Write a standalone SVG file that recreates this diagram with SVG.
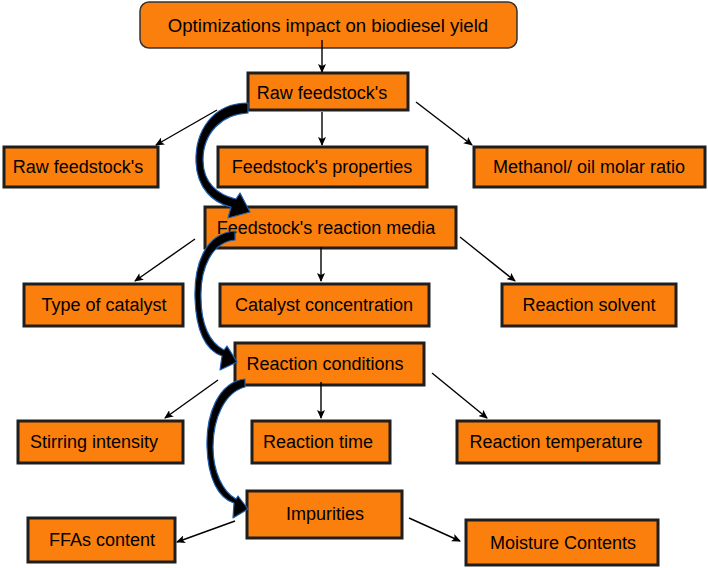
<svg xmlns="http://www.w3.org/2000/svg" width="708" height="568" viewBox="0 0 708 568">
<defs>
<marker id="ah" markerUnits="userSpaceOnUse" markerWidth="9" markerHeight="8" refX="8" refY="4" orient="auto">
<path d="M0,0 L9,4 L0,8 L2,4 Z" fill="#000"/>
</marker>
<style>
.box{fill:#fb7f0c;stroke:#1e1e1e;stroke-width:3}
.top{fill:#fb7f0c;stroke:#333;stroke-width:1.5}
.lbl{font-family:"Liberation Sans",Arial,sans-serif;font-size:18px;fill:#000;text-anchor:middle}
.ln{stroke:#000;stroke-width:1.4;fill:none;marker-end:url(#ah)}
.cv{fill:#000;stroke:#1f5fb0;stroke-width:1.2;stroke-linejoin:round}
</style>
</defs>
<rect width="708" height="568" fill="#fff"/>
<g id="nodes">
<g id="n-top"><rect class="top" x="140" y="2" width="377" height="46" rx="9"/><text class="lbl" x="328" y="32" style="font-size:18.6px">Optimizations impact on biodiesel yield</text></g>
<g id="n-raw"><rect class="box" x="248" y="73" width="160" height="37"/><text class="lbl" x="322" y="99">Raw feedstock's</text></g>
<g id="n-raw2"><rect class="box" x="4" y="147" width="154" height="40"/><text class="lbl" x="78" y="173">Raw feedstock's</text></g>
<g id="n-props"><rect class="box" x="218" y="147" width="209" height="40"/><text class="lbl" x="322" y="173">Feedstock's properties</text></g>
<g id="n-methanol"><rect class="box" x="474" y="147" width="231" height="40"/><text class="lbl" x="589" y="173">Methanol/ oil molar ratio</text></g>
<g id="n-media"><rect class="box" x="205" y="207" width="251" height="41"/><text class="lbl" x="326" y="234">Feedstock's reaction media</text></g>
<g id="n-type"><rect class="box" x="24" y="284" width="159" height="42"/><text class="lbl" x="104" y="311">Type of catalyst</text></g>
<g id="n-conc"><rect class="box" x="220" y="284" width="209" height="42"/><text class="lbl" x="324" y="311">Catalyst concentration</text></g>
<g id="n-solvent"><rect class="box" x="502" y="284" width="174" height="42"/><text class="lbl" x="589" y="311">Reaction solvent</text></g>
<g id="n-cond"><rect class="box" x="235" y="343" width="189" height="42"/><text class="lbl" x="325" y="370">Reaction conditions</text></g>
<g id="n-stir"><rect class="box" x="18" y="421" width="165" height="42"/><text class="lbl" x="94" y="448">Stirring intensity</text></g>
<g id="n-time"><rect class="box" x="252" y="421" width="138" height="42"/><text class="lbl" x="318" y="448">Reaction time</text></g>
<g id="n-temp"><rect class="box" x="457" y="421" width="202" height="42"/><text class="lbl" x="556" y="448">Reaction temperature</text></g>
<g id="n-imp"><rect class="box" x="247" y="491" width="155" height="47"/><text class="lbl" x="325" y="520">Impurities</text></g>
<g id="n-ffa"><rect class="box" x="28" y="518" width="147" height="44"/><text class="lbl" x="102" y="546">FFAs content</text></g>
<g id="n-moist"><rect class="box" x="466" y="520" width="192" height="45"/><text class="lbl" x="563" y="549">Moisture Contents</text></g>
</g>
<g id="connectors">
<line class="ln" x1="322" y1="40" x2="322" y2="72"/>
<line class="ln" x1="217" y1="110" x2="156" y2="145"/>
<line class="ln" x1="322" y1="112" x2="322" y2="145"/>
<line class="ln" x1="416" y1="102" x2="472" y2="145"/>
<line class="ln" x1="195" y1="239" x2="135" y2="281"/>
<line class="ln" x1="321" y1="247" x2="321" y2="281"/>
<line class="ln" x1="460" y1="237" x2="515" y2="281"/>
<line class="ln" x1="218" y1="380" x2="165" y2="418"/>
<line class="ln" x1="321" y1="382" x2="321" y2="418"/>
<line class="ln" x1="432" y1="373" x2="487" y2="418"/>
<line class="ln" x1="235" y1="521" x2="177" y2="542"/>
<line class="ln" x1="409" y1="518" x2="460" y2="541"/>
<path class="cv" d="M248,103 C212,103 195,132 196,162 C197,188 213,203 231,207 L228,218 L250,212 L240,193 L236,199 C218,195 203,183 203,160 C203,133 222,114 248,113 Z"/>
<path class="cv" d="M235,231 C205,233 194,265 195,298 C196,330 205,350 222,356 L220,370 L237,362 L227,346 L224,350 C210,343 201,325 201,298 C200,268 212,242 235,240 Z"/>
<path class="cv" d="M245,379 C218,382 206,415 207,447 C208,478 218,498 234,503 L233,518 L248,509 L238,496 L236,499 C223,492 213,472 213,447 C213,418 225,392 245,387 Z"/>
</g>
</svg>
